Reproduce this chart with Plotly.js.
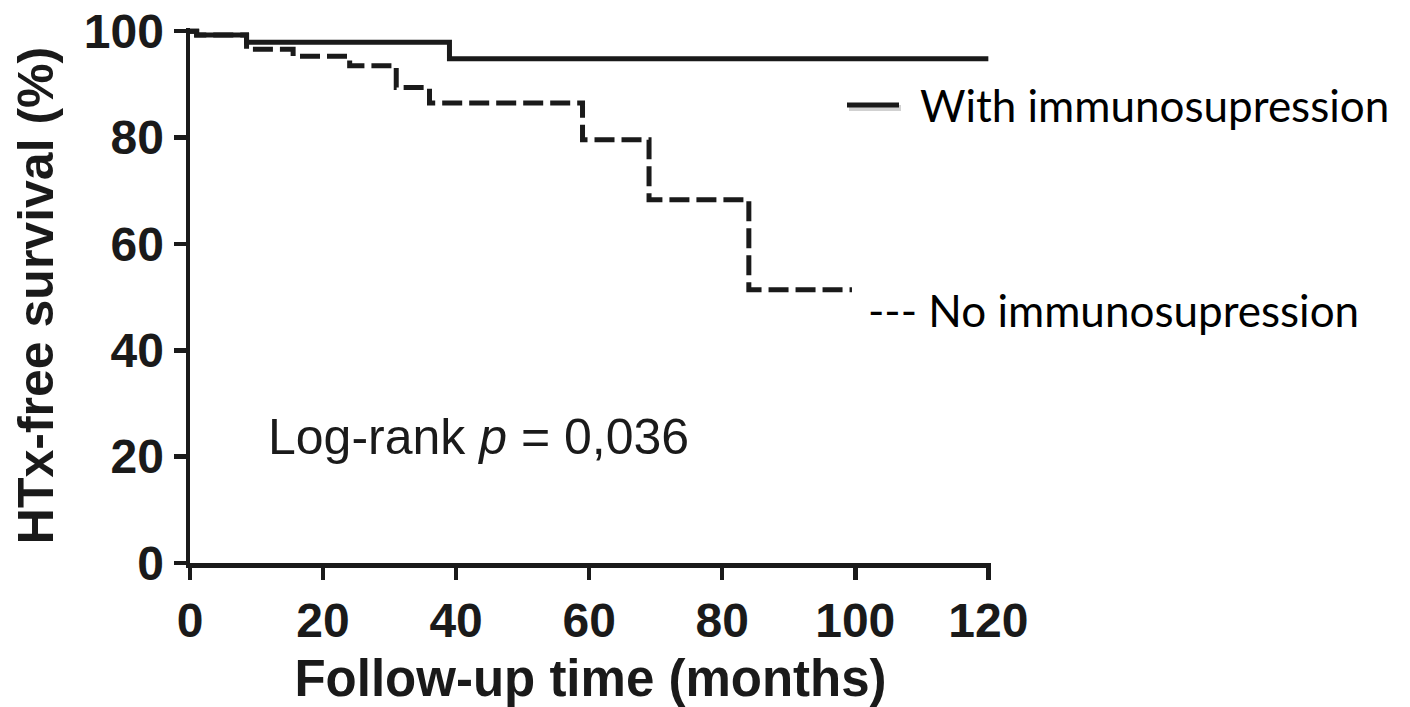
<!DOCTYPE html>
<html>
<head>
<meta charset="utf-8">
<script src="https://cdn.plot.ly/plotly-3.0.1.min.js"></script>
<style>html,body{margin:0;padding:0;background:#fff;}#chart{width:1410px;height:707px;}</style>
</head>
<body>
<div id="chart"></div>
<script>
// With immunosuppression (Kaplan-Meier steps)
const withMonths = [0, 1, 8.5, 39, 120];
const withSurvival = [100, 99.3, 97.9, 94.8, 94.8];
// No immunosuppression
const noMonths = [0, 1, 8.5, 15.5, 24, 31, 36, 59, 69, 84, 99.5];
const noSurvival = [100, 99.3, 96.6, 95.3, 93.5, 89.4, 86.5, 79.6, 68.3, 51.4, 51.4];

const xTicks = [0, 20, 40, 60, 80, 100, 120];
const yTicks = [0, 20, 40, 60, 80, 100];

const ink = '#1a1a1a';
const bold = 'Liberation Sans, Arial, sans-serif';
const calib = 'Lato, Carlito, Calibri, sans-serif';

const traces = [
  {x: withMonths, y: withSurvival, mode: 'lines', line: {shape: 'hv', color: ink, width: 5}, name: 'With immunosupression', hoverinfo: 'x+y'},
  {x: noMonths, y: noSurvival, mode: 'lines', line: {shape: 'hv', color: ink, width: 5, dash: '20px,7px'}, name: 'No immunosupression', hoverinfo: 'x+y'}
];

const layout = {
  width: 1410, height: 707,
  margin: {l: 190, r: 419, t: 28, b: 144},
  paper_bgcolor: '#fff', plot_bgcolor: '#fff',
  showlegend: false,
  xaxis: {
    range: [0, 120.4], tickvals: xTicks, ticktext: xTicks.map(String),
    showgrid: false, zeroline: false, showline: true, linecolor: ink, linewidth: 4.5,
    ticks: 'outside', ticklen: 12, tickwidth: 4.5, tickcolor: ink,
    tickfont: {family: bold, size: 48, color: ink, weight: 'bold'},
    title: {text: '<b>Follow-up time (months)</b>', font: {family: bold, size: 51, color: ink}, standoff: 18}
  },
  yaxis: {
    range: [0, 100.6], tickvals: yTicks, ticktext: yTicks.map(String),
    showgrid: false, zeroline: false, showline: true, linecolor: ink, linewidth: 4.5,
    ticks: 'outside', ticklen: 12, tickwidth: 4.5, tickcolor: ink,
    tickfont: {family: bold, size: 48, color: ink, weight: 'bold'},
    title: {text: '<b>HTx-free survival (%)</b>', font: {family: bold, size: 50, color: ink}, standoff: 16}
  },
  shapes: [
    {type: 'line', xref: 'paper', yref: 'paper', x0: (849-190)/801, x1: (901-190)/801, y0: (563-108)/535, y1: (563-108)/535, line: {color: 'rgba(0,0,0,0.18)', width: 6}},
    {type: 'line', xref: 'paper', yref: 'paper', x0: (847-190)/801, x1: (899-190)/801, y0: (563-105)/535, y1: (563-105)/535, line: {color: ink, width: 5}}
  ],
  annotations: [
    {xref: 'paper', yref: 'paper', x: (918-190)/801, y: (563-105)/535, xanchor: 'left', yanchor: 'middle', showarrow: false,
     text: 'With immunosupression', font: {family: calib, size: 44, color: '#000'}},
    {xref: 'paper', yref: 'paper', x: (866-190)/801, y: (563-310)/535, xanchor: 'left', yanchor: 'middle', showarrow: false,
     text: '--- No immunosupression', font: {family: calib, size: 44, color: '#000'}},
    {xref: 'paper', yref: 'paper', x: (266-190)/801, y: (563-437)/535, xanchor: 'left', yanchor: 'middle', showarrow: false,
     text: 'Log-rank <i>p</i> = 0,036', font: {family: 'Liberation Sans, Arial, sans-serif', size: 50, color: ink}}
  ]
};

Plotly.newPlot('chart', traces, layout, {displayModeBar: false, staticPlot: true});
</script>
</body>
</html>
